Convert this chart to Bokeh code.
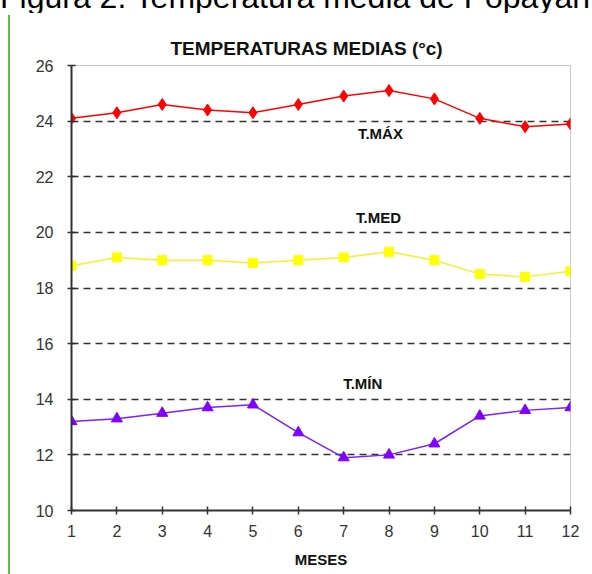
from bokeh.plotting import figure
from bokeh.models import FixedTicker, Label, Div
from bokeh.layouts import column, row
from bokeh.embed import file_html
from bokeh.resources import INLINE

# ---- data ----
months = [1, 2, 3, 4, 5, 6, 7, 8, 9, 10, 11, 12]
t_max = [24.1, 24.3, 24.6, 24.4, 24.3, 24.6, 24.9, 25.1, 24.8, 24.1, 23.8, 23.9]
t_med = [18.8, 19.1, 19.0, 19.0, 18.9, 19.0, 19.1, 19.3, 19.0, 18.5, 18.4, 18.6]
t_min = [13.2, 13.3, 13.5, 13.7, 13.8, 12.8, 11.9, 12.0, 12.4, 13.4, 13.6, 13.7]
y_ticks = [10, 12, 14, 16, 18, 20, 22, 24, 26]
grid_levels = [12, 14, 16, 18, 20, 22, 24]

caption = "Figura 2. Temperatura media de Popayán"
title_text = "TEMPERATURAS MEDIAS (°c)"
x_title = "MESES"
series_labels = ["T.MÁX", "T.MED", "T.MÍN"]
label_pos = [(7.81, 23.55), (7.77, 20.53), (7.42, 14.57)]

FONT = "Liberation Sans"

W, H = 582, 559
L, R, T, B = 61, 22, 50, 64

p = figure(width=W, height=H, x_range=(1, 12), y_range=(10, 26),
           output_backend="svg", toolbar_location=None, margin=0,
           min_border_left=L, min_border_right=R, min_border_top=T, min_border_bottom=B)
p.background_fill_color = "white"
p.border_fill_color = "white"
p.outline_line_color = "#c8c8c8"
p.outline_line_width = 1

# chart title
p.title.text = title_text
p.title.text_font = FONT
p.title.text_font_size = "19px"
p.title.text_font_style = "bold"
p.title.text_color = "#111111"
p.title.align = "left"
p.title.offset = 99
p.title.standoff = 13

# grid
p.xgrid.visible = False
p.ygrid.ticker = FixedTicker(ticks=grid_levels)
p.ygrid.grid_line_color = "#333333"
p.ygrid.grid_line_dash = "7 5"
p.ygrid.grid_line_width = 1.5

# axes
for ax in (p.xaxis[0], p.yaxis[0]):
    ax.axis_line_color = "#333333"
    ax.axis_line_width = 2
    ax.major_tick_line_color = "#333333"
    ax.major_tick_line_width = 1.5
    ax.major_tick_in = 4
    ax.major_tick_out = 4
    ax.minor_tick_line_color = None
    ax.major_label_text_font = FONT
    ax.major_label_text_font_size = "16px"
    ax.major_label_text_color = "#333333"
p.xaxis.ticker = FixedTicker(ticks=months)
p.yaxis.ticker = FixedTicker(ticks=y_ticks)
p.xaxis.major_label_standoff = 10
p.yaxis.major_label_standoff = 14
p.xaxis.axis_label = x_title
p.xaxis.axis_label_text_font = FONT
p.xaxis.axis_label_text_font_size = "15px"
p.xaxis.axis_label_text_font_style = "bold"
p.xaxis.axis_label_text_color = "#111111"
p.xaxis.axis_label_standoff = 11

# series
p.line(months, t_max, color="#ff0000", line_width=1.5)
p.scatter(months, t_max, marker="diamond", size=12, color="#ff0000")
p.line(months, t_med, color="#f2f22a", line_width=1.5)
p.scatter(months, t_med, marker="square", size=9, color="#ffff00")
p.line(months, t_min, color="#7f1fff", line_width=1.5)
p.scatter(months, t_min, marker="triangle", size=11, color="#7f00ff")

# series labels
for txt, (lx, ly) in zip(series_labels, label_pos):
    p.add_layout(Label(x=lx, y=ly, text=txt, text_font=FONT, text_font_size="15px",
                       text_font_style="bold", text_align="center", text_baseline="middle",
                       text_color="#111111"))

# page caption (cut off at the top), rule and green margin line
cap_div = Div(
    text=('<div style="font-family:\'Liberation Sans\';font-size:32px;line-height:32px;'
          'white-space:nowrap;margin-top:-21px;margin-left:0px;position:relative;top:-4px;'
          'color:#000">' + caption + '</div>'),
    width=592, height=13, margin=0,
    styles={"overflow": "hidden", "height": "13px"})
rule_div = Div(text='<div style="height:2px;margin-left:8px;background-color:#555555"></div>',
               width=592, height=2, margin=0,
               styles={"height": "2px", "overflow": "hidden"})
left_pad = Div(text="", width=8, height=H, margin=0)
green_div = Div(text="", width=2, height=H, margin=0,
                styles={"background-color": "#5cbf4a"})

layout = column(cap_div, rule_div,
                row(left_pad, green_div, p, spacing=0, margin=0),
                spacing=0, margin=0)

open("out.html", "w").write(file_html(layout, INLINE))
